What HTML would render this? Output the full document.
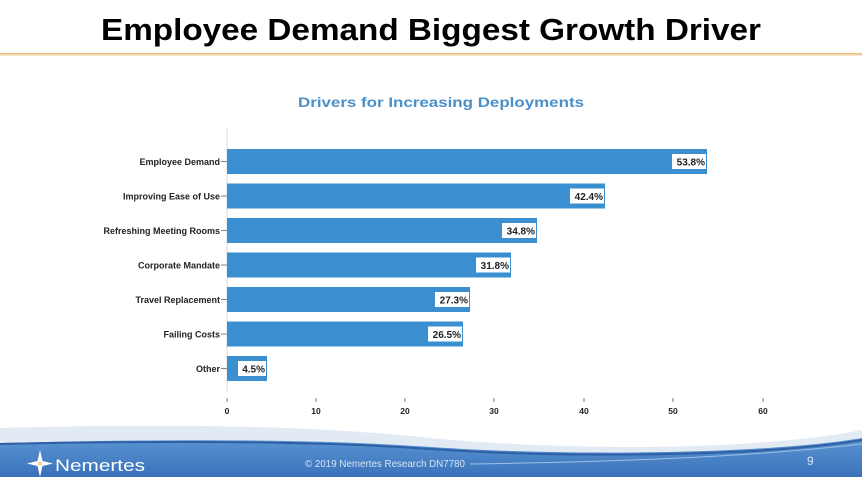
<!DOCTYPE html>
<html><head><style>
body{margin:0;width:862px;height:477px;overflow:hidden;background:#fff;font-family:"Liberation Sans",sans-serif}
</style></head><body>
<svg width="862" height="477" viewBox="0 0 862 477" xmlns="http://www.w3.org/2000/svg" style="position:absolute;left:0;top:0">
<defs>
<linearGradient id="ft" x1="0" y1="0" x2="0" y2="1">
<stop offset="0" stop-color="#5a95d2"/><stop offset="1" stop-color="#3a72bb"/>
</linearGradient>
<linearGradient id="ln" x1="0" y1="0" x2="0" y2="1">
<stop offset="0" stop-color="#e8b870"/><stop offset="1" stop-color="#fbeede"/>
</linearGradient>
</defs>
<text x="431" y="40" text-anchor="middle" font-family="Liberation Sans" font-weight="bold" font-size="31" fill="#000" textLength="660" lengthAdjust="spacingAndGlyphs">Employee Demand Biggest Growth Driver</text>
<rect x="0" y="53" width="862" height="3" fill="url(#ln)"/>
<text x="441" y="107" text-anchor="middle" font-weight="bold" font-size="14" fill="#4a8fc9" textLength="286" lengthAdjust="spacingAndGlyphs">Drivers for Increasing Deployments</text>
<line x1="227" y1="128" x2="227" y2="392" stroke="#ddd" stroke-width="1"/>
<g font-size="8.5" font-weight="bold" fill="#222" text-anchor="middle">
<text x="227" y="414">0</text><text x="316" y="414">10</text><text x="405" y="414">20</text><text x="494" y="414">30</text><text x="584" y="414">40</text><text x="673" y="414">50</text><text x="763" y="414">60</text>
</g>
<g stroke="#555" stroke-width="0.8">
<line x1="227" y1="398" x2="227" y2="402"/><line x1="316" y1="398" x2="316" y2="402"/><line x1="405" y1="398" x2="405" y2="402"/><line x1="494" y1="398" x2="494" y2="402"/><line x1="584" y1="398" x2="584" y2="402"/><line x1="673" y1="398" x2="673" y2="402"/><line x1="763" y1="398" x2="763" y2="402"/>
</g>
<g fill="#3a8fd0">
<rect x="227" y="149" width="480" height="25"/>
<rect x="227" y="183.5" width="378" height="25"/>
<rect x="227" y="218" width="310" height="25"/>
<rect x="227" y="252.5" width="284" height="25"/>
<rect x="227" y="287" width="243" height="25"/>
<rect x="227" y="321.5" width="236" height="25"/>
<rect x="227" y="356" width="40" height="25"/>
</g>
<g font-size="9" font-weight="bold" fill="#222" text-anchor="end">
<text x="220" y="165">Employee Demand</text>
<text x="220" y="199.5">Improving Ease of Use</text>
<text x="220" y="234">Refreshing Meeting Rooms</text>
<text x="220" y="268.5">Corporate Mandate</text>
<text x="220" y="303">Travel Replacement</text>
<text x="220" y="337.5">Failing Costs</text>
<text x="220" y="372">Other</text>
</g>
<g stroke="#666" stroke-width="0.8">
<line x1="221" y1="161.5" x2="227" y2="161.5"/><line x1="221" y1="196" x2="227" y2="196"/><line x1="221" y1="230.5" x2="227" y2="230.5"/><line x1="221" y1="265" x2="227" y2="265"/><line x1="221" y1="299.5" x2="227" y2="299.5"/><line x1="221" y1="334" x2="227" y2="334"/><line x1="221" y1="368.5" x2="227" y2="368.5"/>
</g>
<g fill="#fff">
<rect x="672" y="154" width="34" height="15"/>
<rect x="570" y="188.5" width="34" height="15"/>
<rect x="502" y="223" width="34" height="15"/>
<rect x="476" y="257.5" width="34" height="15"/>
<rect x="435" y="292" width="34" height="15"/>
<rect x="428" y="326.5" width="34" height="15"/>
<rect x="238" y="361" width="28" height="15"/>
</g>
<g font-size="10" font-weight="bold" fill="#222" text-anchor="end">
<text x="705" y="165.5">53.8%</text>
<text x="603" y="200">42.4%</text>
<text x="535" y="234.5">34.8%</text>
<text x="509" y="269">31.8%</text>
<text x="468" y="303.5">27.3%</text>
<text x="461" y="338">26.5%</text>
<text x="265" y="372.5">4.5%</text>
</g>
<path d="M0 428 C150 424 300 424 431 438 C580 452 760 450 862 430 L862 477 L0 477Z" fill="#e2ebf4"/>
<path d="M0 443 C200 438 330 440 431 447 C560 456 760 455 862 438 L862 477 L0 477Z" fill="url(#ft)"/>
<path d="M0 444 C200 440 330 442 431 449 C560 458 760 457 862 440" stroke="#2f5fa5" stroke-width="2" fill="none"/>
<path d="M470 464 C600 462 740 458 862 444" stroke="#9cc0e6" stroke-width="1" fill="none"/>
<g fill="#fff">
<path d="M40 450 L42.5 461 L53 463.5 L42.5 466 L40 477 L37.5 466 L27 463.5 L37.5 461Z"/>
</g>
<circle cx="40" cy="463.5" r="2" fill="#f6d0a0"/>
<text x="55" y="471" font-family="Liberation Sans" font-size="17" fill="#fff" textLength="90" lengthAdjust="spacingAndGlyphs">Nemertes</text>
<text x="305" y="467" font-size="10.5" fill="#d6e4f3" textLength="160" lengthAdjust="spacingAndGlyphs">© 2019 Nemertes Research   DN7780</text>
<text x="807" y="465" font-size="12" fill="#d6e4f3">9</text>
</svg>
</body></html>
